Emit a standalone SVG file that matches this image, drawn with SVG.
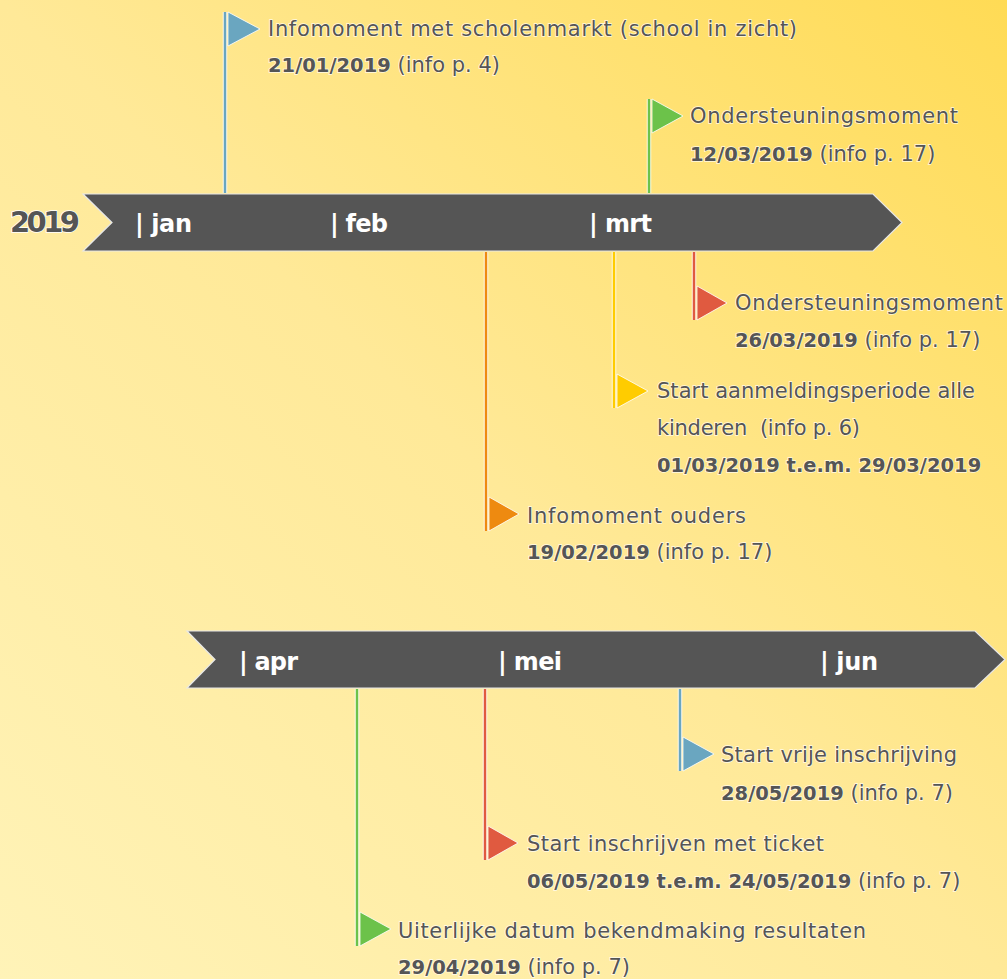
<svg xmlns="http://www.w3.org/2000/svg" width="1007" height="979" viewBox="0 0 1007 979">
<defs>
<linearGradient id="bg" x1="0" y1="1" x2="1" y2="0">
<stop offset="0" stop-color="#fff3b8"/>
<stop offset="0.5" stop-color="#ffe998"/>
<stop offset="1" stop-color="#ffdb55"/>
</linearGradient>
<style>
.rib{fill:#555555;stroke:#e8e8e8;stroke-width:1.2}
.mon{font-family:"DejaVu Sans","Open Sans",sans-serif;font-weight:bold;font-size:24px;fill:#ffffff}
.yr{font-family:"DejaVu Sans","Open Sans",sans-serif;font-weight:bold;font-size:29px;fill:#555555;stroke:#ffffff;stroke-width:1.5;paint-order:stroke}
.t{font-family:"DejaVu Sans","Open Sans",sans-serif;font-size:21px;fill:#555555;stroke:#ffffff;stroke-width:1.4;stroke-opacity:0.8;paint-order:stroke}
.b{font-weight:bold;font-size:19.5px}
.pole{stroke-width:2.5;fill:none}
.halo{stroke:#ffffff;stroke-width:4.5;fill:none;stroke-opacity:0.8}
.fl{stroke:#ffffff;stroke-width:1;stroke-opacity:0.8}
</style>
</defs>
<rect width="1007" height="979" fill="url(#bg)"/>

<g id="ribbon1">
<polygon class="rib" points="83,194 873,194 902,222.5 873,251 83,251 112,222.5"/>
<text class="yr" x="10" y="232" textLength="70">2019</text>
<text class="mon" x="135" y="232" textLength="57">| jan</text>
<text class="mon" x="330" y="232" textLength="58">| feb</text>
<text class="mon" x="589" y="232" textLength="63">| mrt</text>
</g>

<g id="ribbon2">
<polygon class="rib" points="187,631 975,631 1005,659.5 975,688 187,688 215,659.5"/>
<text class="mon" x="239" y="670" textLength="59">| apr</text>
<text class="mon" x="498" y="670" textLength="64">| mei</text>
<text class="mon" x="820" y="670" textLength="58">| jun</text>
</g>

<g id="connectors">
<line class="halo" x1="225" y1="12" x2="225" y2="193"/>
<line class="pole" stroke="#6aa6c0" x1="225" y1="12" x2="225" y2="193"/>
<line class="halo" x1="649" y1="99" x2="649" y2="193"/>
<line class="pole" stroke="#6cc24a" x1="649" y1="99" x2="649" y2="193"/>
<line class="halo" x1="694" y1="252" x2="694" y2="320"/>
<line class="pole" stroke="#e05a40" x1="694" y1="252" x2="694" y2="320"/>
<line class="halo" x1="614" y1="252" x2="614" y2="408"/>
<line class="pole" stroke="#ffcc00" x1="614" y1="252" x2="614" y2="408"/>
<line class="halo" x1="486" y1="252" x2="486" y2="531"/>
<line class="pole" stroke="#ee8a10" x1="486" y1="252" x2="486" y2="531"/>
<line class="halo" x1="357" y1="689" x2="357" y2="946"/>
<line class="pole" stroke="#6cc24a" x1="357" y1="689" x2="357" y2="946"/>
<line class="halo" x1="485" y1="689" x2="485" y2="860"/>
<line class="pole" stroke="#e05a40" x1="485" y1="689" x2="485" y2="860"/>
<line class="halo" x1="680" y1="689" x2="680" y2="771"/>
<line class="pole" stroke="#6aa6c0" x1="680" y1="689" x2="680" y2="771"/>
</g>

<g id="ev1">
<polygon class="fl" fill="#6aa6c0" points="228,12 228,46 260,29"/>
<text class="t" x="268" y="36" textLength="529">Infomoment met scholenmarkt (school in zicht)</text>
<text class="t" x="268" y="72"><tspan class="b">21/01/2019</tspan> (info p. 4)</text>
</g>

<g id="ev2">
<polygon class="fl" fill="#6cc24a" points="652,99 652,133 683,116"/>
<text class="t" x="690" y="123" textLength="268">Ondersteuningsmoment</text>
<text class="t" x="690" y="161"><tspan class="b">12/03/2019</tspan> (info p. 17)</text>
</g>

<g id="ev3">
<polygon class="fl" fill="#e05a40" points="697,286 697,320 727,303"/>
<text class="t" x="735" y="310" textLength="268">Ondersteuningsmoment</text>
<text class="t" x="735" y="347"><tspan class="b">26/03/2019</tspan> (info p. 17)</text>
</g>

<g id="ev4">
<polygon class="fl" fill="#ffcc00" points="617,374 617,408 648,391"/>
<text class="t" x="657" y="398" textLength="318">Start aanmeldingsperiode alle</text>
<text class="t" x="657" y="435" textLength="203" xml:space="preserve">kinderen  (info p. 6)</text>
<text class="t b" x="657" y="472">01/03/2019 t.e.m. 29/03/2019</text>
</g>

<g id="ev5">
<polygon class="fl" fill="#ee8a10" points="489,497 489,531 519,514"/>
<text class="t" x="527" y="523" textLength="219">Infomoment ouders</text>
<text class="t" x="527" y="559"><tspan class="b">19/02/2019</tspan> (info p. 17)</text>
</g>

<g id="ev6">
<polygon class="fl" fill="#6cc24a" points="360,912 360,946 391,929"/>
<text class="t" x="398" y="938" textLength="468">Uiterlijke datum bekendmaking resultaten</text>
<text class="t" x="398" y="974"><tspan class="b">29/04/2019</tspan> (info p. 7)</text>
</g>

<g id="ev7">
<polygon class="fl" fill="#e05a40" points="488,826 488,860 518,843"/>
<text class="t" x="527" y="851" textLength="297">Start inschrijven met ticket</text>
<text class="t" x="527" y="888"><tspan class="b">06/05/2019 t.e.m. 24/05/2019</tspan> (info p. 7)</text>
</g>

<g id="ev8">
<polygon class="fl" fill="#6aa6c0" points="683,737 683,771 714,754"/>
<text class="t" x="721" y="762" textLength="236">Start vrije inschrijving</text>
<text class="t" x="721" y="800"><tspan class="b">28/05/2019</tspan> (info p. 7)</text>
</g>
</svg>
